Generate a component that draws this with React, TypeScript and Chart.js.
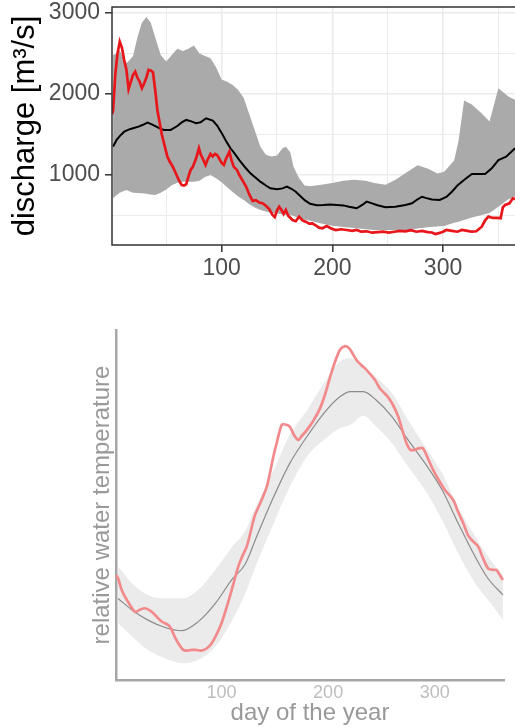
import React, { useEffect, useRef } from "react";
import { Chart, registerables } from "chart.js";

Chart.register(...registerables);
Chart.defaults.font.family = "'Liberation Sans', Arial, sans-serif";

// ---------- Discharge chart (top) ----------
const Q_BAND_DAYS = [2, 5, 8, 11, 14, 17, 20, 24, 28, 32, 36, 40, 45, 50, 55, 60, 65, 70, 75, 80, 85, 90, 95, 100, 105, 110, 115, 120, 125, 130, 135, 140, 145, 150, 155, 158, 162, 165, 170, 175, 180, 190, 200, 210, 220, 230, 238, 248, 257, 268, 277, 286, 295, 301, 310, 314, 319, 326, 335, 342, 350, 359, 365];
const Q_UPPER = [2480, 2500, 2540, 2450, 2380, 2420, 2470, 2700, 2880, 2950, 2880, 2700, 2480, 2400, 2480, 2560, 2530, 2560, 2600, 2500, 2470, 2440, 2330, 2180, 2150, 2110, 2050, 1950, 1750, 1550, 1350, 1250, 1230, 1240, 1330, 1350, 1280, 1100, 960, 870, 860, 880, 900, 930, 940, 930, 900, 880, 940, 1040, 1120, 1080, 1020, 1040, 1180, 1420, 1920, 1870, 1760, 1660, 2070, 1970, 1930];
const Q_LOWER = [712, 750, 780, 800, 815, 795, 782, 778, 774, 770, 760, 753, 780, 820, 875, 905, 918, 918, 918, 930, 975, 1000, 960, 910, 850, 790, 735, 690, 640, 600, 568, 550, 532, 525, 515, 510, 506, 495, 470, 450, 435, 400, 375, 358, 345, 330, 321, 321, 321, 321, 340, 356, 365, 372, 410, 424, 445, 475, 505, 530, 609, 700, 732];

const Q_MEAN_DAYS = [2, 5, 8, 12, 16, 20, 25, 29, 33, 37, 41, 45, 48, 54, 60, 64, 68, 72, 77, 81, 86, 92, 96, 100, 104, 108, 112, 116, 122, 126, 130, 135, 140, 144, 150, 155, 159, 163, 167, 171, 175, 180, 186, 192, 198, 204, 210, 215, 222, 227, 231, 236, 240, 248, 257, 266, 272, 277, 281, 285, 290, 297, 303, 308, 313, 317, 321, 326, 332, 338, 344, 350, 357, 365];
const Q_MEAN = [1350, 1430, 1480, 1535, 1560, 1577, 1597, 1620, 1646, 1625, 1597, 1570, 1556, 1556, 1605, 1650, 1680, 1665, 1639, 1650, 1700, 1671, 1610, 1520, 1420, 1330, 1260, 1185, 1083, 1021, 975, 918, 870, 836, 823, 835, 856, 830, 794, 740, 690, 645, 628, 630, 635, 630, 625, 609, 589, 630, 671, 650, 630, 601, 609, 630, 651, 700, 732, 715, 697, 692, 730, 794, 870, 918, 960, 1013, 1013, 1013, 1083, 1185, 1226, 1330];

const Q_OBS_DAYS = [1, 2, 4, 6, 8, 10, 12, 14, 16, 18, 20, 22, 24, 26, 28, 30, 32, 34, 36, 38, 40, 42, 44, 46, 48, 51, 53, 56, 58, 60, 62, 64, 66, 68, 70, 72, 74, 77, 79.5, 81, 83, 85.5, 87, 90, 92, 94, 96, 98, 100, 102, 104, 107, 109, 111, 114, 116, 119, 122, 125, 128, 131, 134, 137, 140, 143, 146, 148, 150, 152, 154, 156, 158, 160, 164, 167, 170, 173, 176, 179, 182, 186, 188, 191, 195, 199, 203, 208, 213, 218, 222, 226, 231, 236, 241, 246, 251, 256, 261, 266, 271, 276, 281, 286, 290, 293, 297, 300, 303, 308, 313, 317, 322, 326, 330, 335, 338, 341, 345, 349, 352, 354, 356, 360, 363, 365];
const Q_OBS = [1750, 1800, 2250, 2500, 2647, 2570, 2420, 2300, 2060, 2150, 2235, 2276, 2200, 2150, 2071, 2130, 2200, 2297, 2290, 2270, 2050, 1800, 1650, 1500, 1390, 1226, 1170, 1100, 1040, 979, 920, 877, 870, 885, 980, 1062, 1100, 1207, 1330, 1260, 1200, 1124, 1180, 1260, 1230, 1260, 1247, 1200, 1150, 1124, 1200, 1288, 1180, 1103, 1060, 1000, 930, 860, 760, 680, 690, 660, 651, 620, 580, 506, 480, 560, 609, 570, 520, 568, 500, 445, 430, 486, 440, 424, 400, 403, 370, 350, 342, 370, 340, 321, 330, 321, 310, 321, 300, 305, 288, 295, 300, 290, 300, 310, 305, 320, 300, 310, 295, 290, 272, 285, 300, 321, 310, 300, 321, 310, 300, 305, 362, 440, 486, 470, 470, 465, 600, 630, 651, 712, 700];

const Q_Y_LABELS = [1000, 2000, 3000];
const Q_Y_GRID = [500, 1000, 1500, 2000, 2500, 3000];
const DAY_LABELS = [100, 200, 300];
const DAY_GRID = [50, 100, 150, 200, 250, 300, 350];

// ---------- Relative water temperature chart (bottom) ----------
const T_BAND_DAYS = [3, 16, 31, 47, 63, 78, 94, 110, 122, 133, 149, 164, 180, 196, 211, 221, 233, 245, 260, 275, 291, 307, 322, 338, 350, 364];
const T_UPPER = [32.4, 27.6, 24.3, 23.3, 23.3, 25.7, 31.4, 38.1, 42.5, 50, 60, 70, 77, 84.8, 91, 91.9, 89.5, 86.5, 81.9, 74.3, 66.7, 59, 49.5, 41, 35.2, 30];
const T_LOWER = [16.2, 12.4, 8.6, 6.2, 4.8, 5.7, 9.5, 17.1, 24.5, 33.3, 44.8, 55.2, 63.8, 68.6, 71.9, 72.9, 75.5, 72.4, 67.6, 61, 54.3, 45.7, 36.2, 27.6, 22.9, 17.1];
const T_MEAN = [23.3, 20, 17.1, 15, 14.1, 16.6, 21.8, 28.8, 33, 41, 52.4, 61.9, 69.5, 76.2, 80.9, 82.4, 82.4, 80, 75.2, 68.6, 61.9, 54.3, 44.8, 35.2, 29, 24.3];

const T_OBS_DAYS = [1, 3, 6, 9.4, 14, 18.8, 23, 28, 33, 37.6, 43.8, 50, 53, 56, 60, 64, 68, 72, 76, 81, 86, 90.8, 95, 100, 105, 109.5, 115.7, 119, 123.6, 127, 131.4, 137, 142.4, 145, 148.6, 152, 156.5, 160, 164, 168, 172, 176, 180, 186, 192.4, 197, 202, 206, 211, 215.8, 219, 222, 226.7, 231, 236, 244, 248.6, 256, 261, 265.8, 270, 273.6, 277, 280, 285, 289, 294, 298.6, 304, 309.6, 317.4, 322, 326.8, 331, 334.7, 340.8, 345, 350, 354, 358, 361, 364];
const T_OBS = [30, 29, 26, 23.8, 21.5, 19.5, 20, 20.5, 19.8, 18.6, 16.7, 15.7, 14.5, 12.4, 10.2, 8.6, 8.4, 8.6, 8.6, 8.4, 9, 10.5, 12.8, 16.2, 21, 25.7, 32.4, 35, 38.1, 42, 47.1, 51, 55.2, 58.5, 63.8, 68, 72.9, 73, 72.4, 70, 68.6, 70, 71.4, 74, 77.6, 81.5, 86.7, 90.5, 94.3, 95.4, 95, 93.8, 91.4, 90, 88.6, 85.7, 83.3, 80.9, 78.5, 75.2, 71, 67.6, 65.8, 65.7, 66.2, 66.2, 63, 60, 57, 54.3, 51.4, 48, 44.8, 41.5, 40, 38.1, 35, 31.9, 31.5, 31.4, 30, 28.6];

const zip = (xs: number[], ys: number[]) => xs.map((x, i) => ({ x, y: ys[i] }));

const fixSize = (w?: number, h?: number) => (s: any) => {
  if (w !== undefined) s.width = w;
  if (h !== undefined) s.height = h;
  s.paddingTop = 0;
  s.paddingBottom = 0;
  s.paddingLeft = 0;
  s.paddingRight = 0;
};

const panelBorder = {
  id: "panelBorder",
  afterDraw(chart: any) {
    const { ctx, chartArea } = chart;
    const { left, top, right, bottom } = chartArea;
    ctx.save();
    ctx.strokeStyle = "#333333";
    ctx.lineWidth = 1.5;
    ctx.beginPath();
    ctx.moveTo(right + 2, top);
    ctx.lineTo(left, top);
    ctx.lineTo(left, bottom);
    ctx.lineTo(right + 2, bottom);
    ctx.stroke();
    ctx.restore();
  },
};

export default function App() {
  const topRef = useRef<HTMLCanvasElement>(null);
  const botRef = useRef<HTMLCanvasElement>(null);

  useEffect(() => {
    const top = new Chart(topRef.current as HTMLCanvasElement, {
      type: "line",
      data: {
        datasets: [
          { label: "upper", data: zip(Q_BAND_DAYS, Q_UPPER), borderWidth: 0, borderColor: "rgba(0,0,0,0)", backgroundColor: "#aaaaaa", pointRadius: 0, fill: "+1", order: 3 } as any,
          { label: "lower", data: zip(Q_BAND_DAYS, Q_LOWER), borderWidth: 0, borderColor: "rgba(0,0,0,0)", pointRadius: 0, fill: false, order: 3 },
          { label: "mean", data: zip(Q_MEAN_DAYS, Q_MEAN), borderWidth: 2, borderColor: "#000000", pointRadius: 0, fill: false, order: 2 },
          { label: "observed", data: zip(Q_OBS_DAYS, Q_OBS), borderWidth: 2.7, borderColor: "#e8161b", pointRadius: 0, fill: false, order: 1 },
        ],
      },
      options: {
        responsive: false,
        animation: false,
        events: [],
        layout: { padding: { top: 7, right: 0, bottom: 0, left: 0 } },
        plugins: { legend: { display: false }, tooltip: { enabled: false } },
        scales: {
          x: {
            type: "linear",
            min: 1,
            max: 365,
            afterBuildTicks: (s: any) => { s.ticks = DAY_GRID.map((v) => ({ value: v })); },
            afterFit: fixSize(undefined, 45),
            ticks: {
              autoSkip: false,
              maxRotation: 0,
              padding: 3,
              color: "#4d4d4d",
              font: { size: 23 },
              callback: (v: any) => (DAY_LABELS.includes(v) ? String(v) : ""),
            },
            grid: {
              color: "#ebebeb",
              lineWidth: (c: any) => (c.tick && DAY_LABELS.includes(c.tick.value) ? 1.6 : 1),
              tickColor: (c: any) => (c.tick && DAY_LABELS.includes(c.tick.value) ? "#333333" : "rgba(0,0,0,0)"),
              tickLength: 7,
              tickWidth: 1.5,
            },
            border: { display: false },
          },
          y: {
            type: "linear",
            min: 136,
            max: 3074,
            afterBuildTicks: (s: any) => { s.ticks = Q_Y_GRID.map((v) => ({ value: v })); },
            afterFit: fixSize(112, undefined),
            ticks: {
              autoSkip: false,
              padding: 5,
              color: "#4d4d4d",
              font: { size: 23 },
              callback: (v: any) => (Q_Y_LABELS.includes(v) ? String(v) : ""),
            },
            grid: {
              color: "#ebebeb",
              lineWidth: (c: any) => (c.tick && Q_Y_LABELS.includes(c.tick.value) ? 1.6 : 1),
              tickColor: (c: any) => (c.tick && Q_Y_LABELS.includes(c.tick.value) ? "#333333" : "rgba(0,0,0,0)"),
              tickLength: 7,
              tickWidth: 1.5,
            },
            border: { display: false },
            title: {
              display: true,
              text: "discharge [m³/s]",
              color: "#000000",
              font: { size: 31 },
              padding: { top: 7, bottom: 0 },
            },
          },
        },
      },
      plugins: [panelBorder],
    } as any);

    const bot = new Chart(botRef.current as HTMLCanvasElement, {
      type: "line",
      data: {
        datasets: [
          { label: "upper", data: zip(T_BAND_DAYS, T_UPPER), borderWidth: 0, borderColor: "rgba(0,0,0,0)", backgroundColor: "#ebebeb", pointRadius: 0, fill: "+1", tension: 0.4, cubicInterpolationMode: "monotone", order: 3 } as any,
          { label: "lower", data: zip(T_BAND_DAYS, T_LOWER), borderWidth: 0, borderColor: "rgba(0,0,0,0)", pointRadius: 0, fill: false, tension: 0.4, cubicInterpolationMode: "monotone", order: 3 },
          { label: "mean", data: zip(T_BAND_DAYS, T_MEAN), borderWidth: 1.2, borderColor: "#8c8c8c", pointRadius: 0, fill: false, cubicInterpolationMode: "monotone", order: 2 },
          { label: "observed", data: zip(T_OBS_DAYS, T_OBS), borderWidth: 2.7, borderColor: "#f28a8c", pointRadius: 0, fill: false, tension: 0.3, order: 1 },
        ],
      },
      options: {
        responsive: false,
        animation: false,
        events: [],
        layout: { padding: { top: 30, right: 11, bottom: 0, left: 0 } },
        plugins: { legend: { display: false }, tooltip: { enabled: false } },
        scales: {
          x: {
            type: "linear",
            min: 1,
            max: 365,
            afterBuildTicks: (s: any) => { s.ticks = DAY_LABELS.map((v) => ({ value: v })); },
            afterFit: fixSize(undefined, 48),
            ticks: { autoSkip: false, maxRotation: 0, padding: 2, color: "#bdbdbd", font: { size: 18 } },
            grid: { display: false, drawTicks: false },
            border: { display: true, color: "#a6a6a6", width: 2.5 },
            title: { display: true, text: "day of the year", color: "#999999", font: { size: 24 }, padding: { top: 0, bottom: 0 } },
          },
          y: {
            type: "linear",
            min: 0,
            max: 100,
            afterFit: fixSize(116, undefined),
            ticks: { display: false },
            grid: { display: false, drawTicks: false },
            border: { display: true, color: "#a6a6a6", width: 2.5 },
            title: { display: true, text: "relative water temperature", color: "#999999", font: { size: 24 }, padding: { top: 88, bottom: 0 } },
          },
        },
      },
    } as any);

    return () => {
      top.destroy();
      bot.destroy();
    };
  }, []);

  return (
    <div style={{ position: "absolute", left: 0, top: 0, width: 515, height: 728, background: "#ffffff", overflow: "hidden" }}>
      <canvas ref={topRef} width={515} height={290} style={{ position: "absolute", left: 0, top: 0, width: 515, height: 290 }} />
      <canvas ref={botRef} width={515} height={428} style={{ position: "absolute", left: 0, top: 300, width: 515, height: 428 }} />
    </div>
  );
}
